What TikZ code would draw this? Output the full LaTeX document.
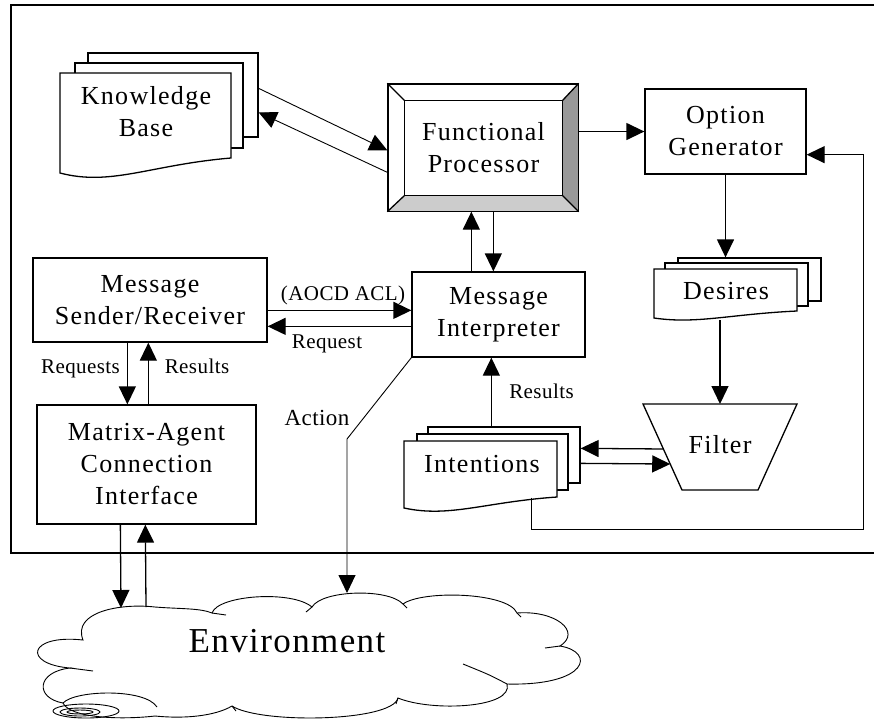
\documentclass[tikz,border=0pt]{standalone}
\usepackage{fontspec}
\setmainfont{Liberation Serif}
\newfontfamily\mainfam[LetterSpace=5]{Liberation Serif}
\newfontfamily\smallfam[LetterSpace=2]{Liberation Serif}
\newfontfamily\envfam[LetterSpace=4]{Liberation Serif}
\usetikzlibrary{arrows.meta,calc}
\definecolor{bevR}{HTML}{999999}
\definecolor{bevB}{HTML}{CCCCCC}
\newcommand\mainlab{\mainfam\fontsize{26}{32}\selectfont}
\newcommand\smalllab{\smallfam\fontsize{21}{25}\selectfont}
\newcommand\actlab{\smallfam\fontsize{23}{27}\selectfont}
\newcommand\envlab{\envfam\fontsize{35}{40}\selectfont}
% document page: L T R BL BR
\newcommand\docpage[5]{%
  \filldraw[fill=white] (#1,#4) -- (#1,#2) -- (#3,#2) -- (#3,#5)
    .. controls ({#1+0.53*(#3-#1)},{#5+0.45*(#4-#5)}) and ({#1+0.3*(#3-#1)},{#4+0.9*(#4-#5)}) .. (#1,#4) -- cycle;}
\begin{document}
\begin{tikzpicture}[x=1pt,y=-1pt,line width=1.3pt,
  box/.style={draw, fill=white, inner sep=0pt, align=center, font=\mainlab},
  page/.style={draw, fill=white, inner sep=0pt},
  ghost/.style={inner sep=0pt},
  txt/.style={inner sep=0pt, align=center, font=\mainlab},
  lbl/.style={inner sep=0pt, font=\smalllab, anchor=base},
  arr/.style={-{Triangle[length=18pt,width=17pt]}},
  thin/.style={line width=0.9pt}]
\useasboundingbox (0,0) rectangle (874,721);
% frame (right side lies outside the picture)
\draw[line width=1.6pt] (874,5) -- (11,5) -- (11,553) -- (874,553);

% Knowledge Base stack
\node[page, minimum width=170pt, minimum height=84pt] (kb3) at (173,95) {};
\node[page, minimum width=168pt, minimum height=85pt] (kb2) at (159,105.5) {};
\docpage{60}{73}{231}{173}{158}
\node[txt] (kb) at (146,112) {Knowledge\\Base};

% Functional Processor (bevelled)
\node[draw, fill=white, minimum width=190pt, minimum height=127pt, inner sep=0pt] (fp) at (483,147.5) {};
\node[txt, minimum width=157pt, minimum height=94pt] (fpin) at (483.5,148) {Functional\\Processor};
\fill[bevR] (fp.north east) -- (fp.south east) -- (fpin.south east) -- (fpin.north east) -- cycle;
\fill[bevB] (fp.south west) -- (fp.south east) -- (fpin.south east) -- (fpin.south west) -- cycle;
\draw (fp.north west) rectangle (fp.south east);
\draw (fpin.north west) rectangle (fpin.south east);
\draw (fp.north west) -- (fpin.north west) (fp.north east) -- (fpin.north east)
      (fp.south west) -- (fpin.south west) (fp.south east) -- (fpin.south east);

% Option Generator
\node[box, minimum width=161pt, minimum height=85pt] (og) at (725.5,131.5) {Option\\Generator};

% Message Sender/Receiver
\node[box, minimum width=234pt, minimum height=84pt] (msr) at (150,300) {Message\\Sender/Receiver};
% Message Interpreter
\node[box, minimum width=173pt, minimum height=85pt] (mi) at (498.5,314.5) {Message\\Interpreter};
% Matrix-Agent Connection Interface
\node[box, minimum width=219pt, minimum height=119pt] (maci) at (146.5,464.5) {Matrix-Agent\\Connection\\Interface};

% Desires stack
\node[page, minimum width=143pt, minimum height=43pt] (de3) at (749.5,279.5) {};
\node[page, minimum width=143pt, minimum height=43pt] (de2) at (736.5,284.5) {};
\docpage{654}{269}{797}{318}{311}
\node[txt] (de) at (726,291) {Desires};

% Intentions stack
\node[page, minimum width=152pt, minimum height=56pt] (in3) at (504,455) {};
\node[page, minimum width=151pt, minimum height=56pt] (in2) at (492.5,462) {};
\docpage{404}{441}{557}{508}{497}
\node[ghost, minimum width=153pt, minimum height=56pt] (in1) at (480.5,469) {};
\node[txt] (int) at (482,464) {Intentions};

% Filter
\coordinate (ftl) at (643,404);
\coordinate (ftr) at (797,404);
\coordinate (fbr) at (758,490);
\coordinate (fbl) at (682,490);
\filldraw[fill=white] (ftl) -- (ftr) -- (fbr) -- (fbl) -- cycle;
\node[txt] (fil) at (720,445) {Filter};

% Environment cloud
\filldraw[fill=white, line width=0.9pt] (83,640)
 .. controls (72,612) and (120,603) .. (155,607)
 .. controls (180,609) and (200,608) .. (212,613)
 .. controls (218,595) and (292,590) .. (312,607)
 .. controls (322,590) and (388,588) .. (403,604)
 .. controls (422,590) and (508,592) .. (517,613)
 .. controls (556,610) and (582,632) .. (560,646)
 .. controls (596,652) and (588,686) .. (507,684)
 .. controls (514,708) and (432,712) .. (398,698)
 .. controls (392,722) and (260,724) .. (232,706)
 .. controls (215,716) and (185,719) .. (155,716)
 .. controls (120,720) and (70,718) .. (63,703)
 .. controls (35,698) and (36,672) .. (70,668)
 .. controls (22,664) and (28,634) .. (83,640) -- cycle;
\begin{scope}[line width=0.9pt]
\draw (212,613) -- (226,615);
\draw (312,607) -- (306,612);
\draw (403,604) -- (407,608);
\draw (517,613) -- (521,617);
\draw (560,646) -- (545,648);
\draw (507,684) .. controls (490,675) .. (463,664);
\draw (398,698) -- (396,704);
\draw (232,706) -- (236,711);
\draw (70,668) -- (93,671);
\draw (63,703) .. controls (75,690) and (145,688) .. (157,707);
\draw (86,711) ellipse [x radius=33, y radius=7];
\draw (80,712) ellipse [x radius=20, y radius=4];
\draw (80,712) ellipse [x radius=13, y radius=2];
\end{scope}
\node[inner sep=0pt, font=\envlab, anchor=base] (env) at (287,652) {Environment};
\coordinate (envA) at (121,608);
\coordinate (envB) at (146,607);
\coordinate (envC) at (347,593);

% connectors
\draw[arr, thin] ($(kb3.north east)+(0,36)$) -- ($(fp.north west)+(0,67)$);
\draw[arr, thin] ($(fp.north west)+(0,89)$) -- ($(kb3.north east)+(0,60)$);
\draw[arr] (og.west -| fp.east) -- (og.west);
\draw[arr] (og.south) -- (de3.north -| og.south);
\draw[arr] ($(ftl)!0.5!(ftr)+(0,-84)$) -- ($(ftl)!0.5!(ftr)$);
\draw[arr] ($(ftl)!0.523!(fbl)$) -- ($(in3.north east)+(0,22)$);
\draw[arr] ($(in3.north east)+(0,37)$) -- ($(ftl)!0.698!(fbl)$);
\draw[arr] ($(in3.north west)+(64,0)$) -- ($(mi.south west)+(80,0)$);
\draw[arr] ($(mi.north west)+(60,0)$) -- ($(fp.south west)+(84,0)$);
\draw[arr] ($(fp.south west)+(106,0)$) -- ($(mi.north west)+(82,0)$);
\draw[arr] ($(msr.north east)+(0,53)$) -- ($(mi.north west)+(0,39)$);
\draw[arr] ($(mi.north west)+(0,55)$) -- ($(msr.north east)+(0,69)$);
\draw[arr] ($(msr.south west)+(95,0)$) -- ($(maci.north west)+(91,0)$);
\draw[arr] ($(maci.north west)+(112,0)$) -- ($(msr.south west)+(116,0)$);
\draw[arr] ($(maci.south west)+(84,0)$) -- (envA);
\draw[arr] (envB) -- ($(maci.south west)+(109,0)$);
\draw[arr, thin] (mi.south west) -- ($(envC)+(0,-154)$) -- (envC);
\draw[arr] ($(in1.south east)+(-26,0)$) -- ++(0,32) -- ++(332,0) |- ($(og.south east)+(0,-20)$);

% labels
\node[lbl] (laocd) at (343,300) {(AOCD ACL)};
\node[lbl] (lreq) at (327,348) {Request};
\node[lbl] (lreqs) at (80.5,373) {Requests};
\node[lbl] (lres1) at (197,373) {Results};
\node[lbl] (lres2) at (541.5,398) {Results};
\node[lbl, font=\actlab] (lact) at (317,425) {Action};
\end{tikzpicture}
\end{document}
